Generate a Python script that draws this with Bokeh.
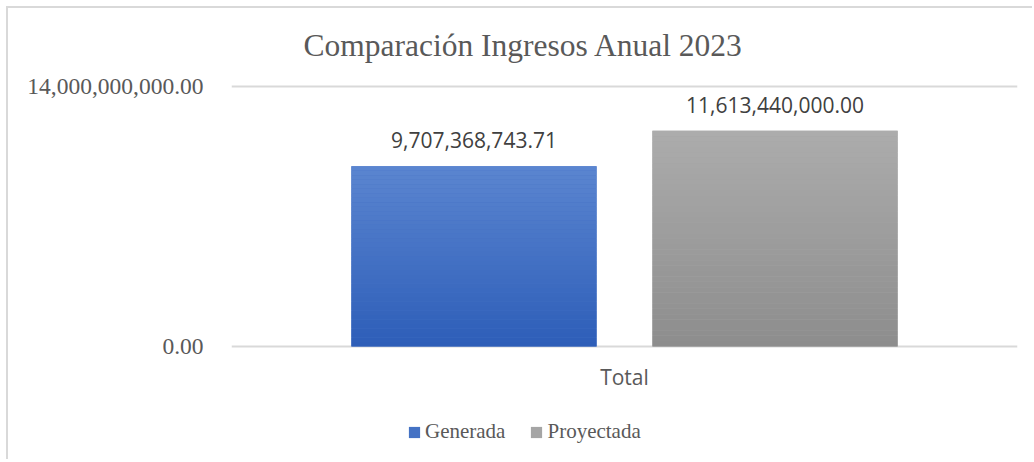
from bokeh.plotting import figure
from bokeh.layouts import column
from bokeh.models import (ColumnDataSource, FactorRange, Range1d, FixedTicker,
                          NumeralTickFormatter, LabelSet, Legend, LegendItem, Title)
from bokeh.core.properties import value
from bokeh.transform import dodge
from bokeh.embed import file_html
from bokeh.resources import INLINE

# ---------------- data ----------------
categories = ["Total"]
series = ["Generada", "Proyectada"]
values = [9707368743.71, 11613440000.00]
y_ticks = [0, 14000000000]
title_text = "Comparación Ingresos Anual 2023"

# ---------------- style ----------------
top_colors = ["#5b86d0", "#acacac"]
bottom_colors = ["#2d5db8", "#8d8d8d"]
mid_colors = ["#4472c4", "#a5a5a5"]
offsets = [-0.1915, 0.1915]
bar_width = 0.312
N_BANDS = 40
SERIF = "Liberation Serif"
SANS = "Open Sans"
GREY_TXT = "#595959"
PX = 14e9 / 260.0  # data units per screen pixel


def hex2rgb(h):
    h = h.lstrip("#")
    return tuple(int(h[i:i + 2], 16) for i in (0, 2, 4))


def mix(c1, c2, t):
    a, b = hex2rgb(c1), hex2rgb(c2)
    return "#%02x%02x%02x" % tuple(int(round(a[k] + (b[k] - a[k]) * t)) for k in range(3))


p = figure(x_range=FactorRange(factors=categories),
           y_range=Range1d(y_ticks[0] - 3 * PX, y_ticks[-1] + 3 * PX),
           width=1024, height=401, output_backend="svg", toolbar_location=None,
           min_border_left=223, min_border_right=15, min_border_top=75,
           min_border_bottom=60)
p.outline_line_color = None
p.background_fill_color = "white"
p.border_fill_color = "white"

# title
p.title = Title(text=title_text, align="left", offset=72, standoff=38,
                vertical_align="top",
                text_font=SERIF, text_font_size="31.5px", text_font_style="normal",
                text_color=GREY_TXT)

# axes
p.yaxis.ticker = FixedTicker(ticks=y_ticks)
p.yaxis.formatter = NumeralTickFormatter(format="0,0.00")
p.yaxis.axis_line_color = None
p.yaxis.major_tick_line_color = None
p.yaxis.minor_tick_line_color = None
p.yaxis.major_tick_out = 0
p.yaxis.major_label_standoff = 28
p.yaxis.major_label_text_font = SERIF
p.yaxis.major_label_text_font_size = "23.5px"
p.yaxis.major_label_text_color = GREY_TXT

p.xaxis.axis_line_color = None
p.xaxis.major_tick_line_color = None
p.xaxis.major_tick_out = 0
p.xaxis.major_label_standoff = 13
p.xaxis.major_label_text_font = SANS
p.xaxis.major_label_text_font_size = "21px"
p.xaxis.major_label_text_color = GREY_TXT

p.xgrid.visible = False
p.ygrid.ticker = FixedTicker(ticks=y_ticks)
p.ygrid.grid_line_color = "#d9d9d9"
p.ygrid.grid_line_width = 2

# bars: solid base + gradient bands derived from the values
for k, (s, v) in enumerate(zip(series, values)):
    src = ColumnDataSource(dict(x=categories, top=[v]))
    p.vbar(x=dodge("x", offsets[k], range=p.x_range), top="top", bottom=0,
           width=bar_width, source=src, fill_color=mid_colors[k], line_color=None)
    bottoms = [v * i / N_BANDS for i in range(N_BANDS)]
    tops = [v * (i + 1) / N_BANDS for i in range(N_BANDS)]
    cols = [mix(bottom_colors[k], top_colors[k], (i + 0.5) / N_BANDS) for i in range(N_BANDS)]
    bsrc = ColumnDataSource(dict(x=categories * N_BANDS, bottom=bottoms, top=tops, color=cols))
    p.vbar(x=dodge("x", offsets[k], range=p.x_range), top="top", bottom="bottom",
           width=bar_width, source=bsrc, fill_color="color", line_color=None)

# data labels
for k in range(len(series)):
    src = ColumnDataSource(dict(x=categories, y=[values[k]], txt=[f"{values[k]:,.2f}"]))
    ls = LabelSet(x=dodge("x", offsets[k], range=p.x_range), y="y", text="txt", source=src,
                  text_align="center", text_baseline="alphabetic", y_offset=18,
                  text_font=value(SANS), text_font_size=value("21px"),
                  text_color="#404040")
    p.add_layout(ls)

# legend strip (separate small figure below the chart; frames are aligned)
pl = figure(width=1024, height=50, output_backend="svg", toolbar_location=None,
            x_range=FactorRange(factors=categories), y_range=Range1d(0, 1),
            x_axis_location=None, y_axis_location=None,
            min_border_left=0, min_border_right=0, min_border_top=0, min_border_bottom=0)
pl.outline_line_color = None
pl.xgrid.visible = False
pl.ygrid.visible = False
leg_renderers = []
for k, s in enumerate(series):
    src = ColumnDataSource(dict(x=categories, top=[values[k]]))
    r = pl.vbar(x="x", top="top", width=bar_width, source=src,
                fill_color=mid_colors[k], line_color=None)
    r.visible = False
    leg_renderers.append(r)
leg = Legend(items=[LegendItem(label=s, renderers=[leg_renderers[k]])
                    for k, s in enumerate(series)],
             location=(176, 15), orientation="horizontal",
             glyph_width=14, glyph_height=14, label_standoff=4,
             label_height=22, padding=0, margin=0, spacing=24,
             border_line_color=None, background_fill_alpha=0,
             inactive_fill_alpha=0,
             label_text_font=SERIF, label_text_font_size="21px",
             label_text_color=GREY_TXT)
pl.add_layout(leg)

layout = column(p, pl, spacing=0)
layout.styles = {"margin-left": "6px", "margin-top": "6px",
                 "border-left": "2px solid #d9d9d9", "border-top": "2px solid #d9d9d9"}

open("out.html", "w").write(file_html(layout, INLINE))
